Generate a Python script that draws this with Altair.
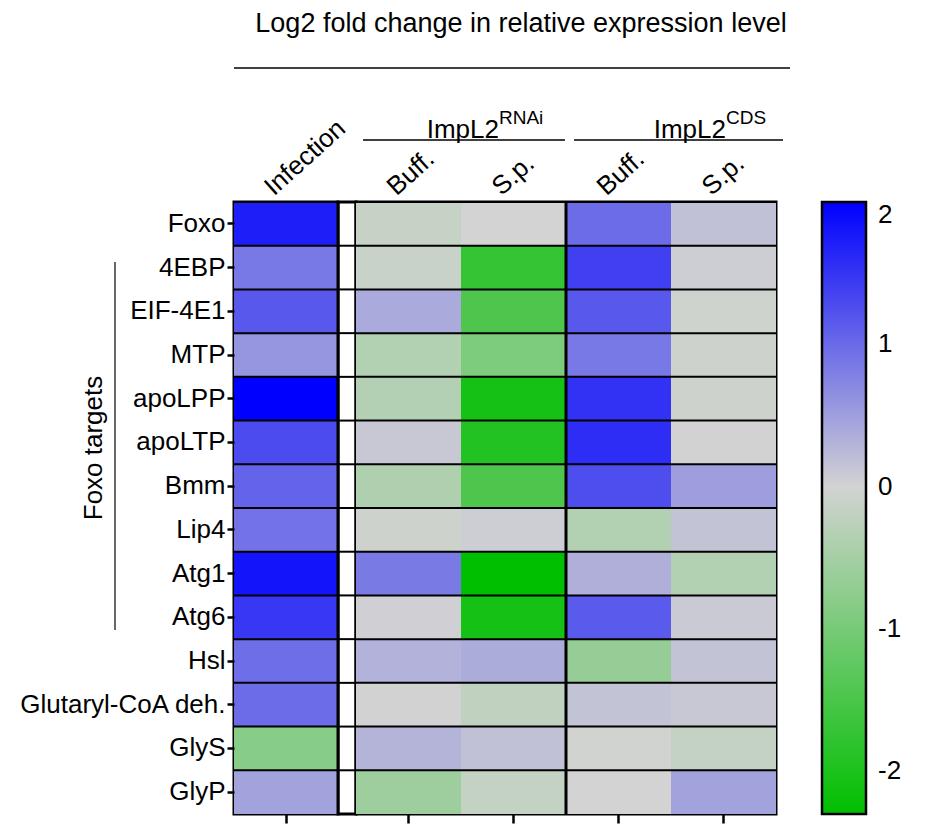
import altair as alt
import pandas as pd

genes = ["Foxo", "4EBP", "EIF-4E1", "MTP", "apoLPP", "apoLTP", "Bmm", "Lip4",
         "Atg1", "Atg6", "Hsl", "Glutaryl-CoA deh.", "GlyS", "GlyP"]
infection = [1.72, 0.86, 1.17, 0.58, 2.0, 1.29, 1.05, 0.91, 1.81, 1.48, 0.96, 0.98, -0.83, 0.46]
rnai_buff = [-0.14, -0.12, 0.39, -0.36, -0.34, 0.10, -0.39, -0.07, 0.84, 0.03, 0.31, 0.01, 0.29, -0.58]
rnai_sp = [0.0, -1.73, -1.45, -0.94, -2.08, -1.92, -1.45, 0.06, -2.3, -2.06, 0.37, -0.21, 0.18, -0.17]
cds_buff = [0.98, 1.39, 1.17, 0.86, 1.53, 1.57, 1.26, -0.36, 0.34, 1.15, -0.66, 0.15, -0.03, -0.01]
cds_sp = [0.18, 0.06, -0.05, -0.07, -0.07, 0.01, 0.50, 0.15, -0.36, 0.09, 0.15, 0.10, -0.17, 0.46]

main_cols = ["Buff.|RNAi", "S.p.|RNAi", "Buff.|CDS", "S.p.|CDS"]
legend_ticks = [-2, -1, 0, 1, 2]

FONT = "Liberation Sans"

inf_df = pd.DataFrame({"gene": genes, "col": "Infection", "value": infection})
main_df = pd.concat([
    pd.DataFrame({"gene": genes, "col": c, "value": v})
    for c, v in zip(main_cols, [rnai_buff, rnai_sp, cds_buff, cds_sp])
])
gene_df = pd.DataFrame({"gene": genes})
sep_df = pd.DataFrame({"col": ["Buff.|CDS"]})
one = pd.DataFrame({"a": [0]})

H = 612
color_scale = alt.Scale(domain=[-2.3, 0, 2], range=["#00bf00", "#d3d3d3", "#0000ff"], interpolate="rgb")
color_enc = alt.Color("value:Q", scale=color_scale, title=None,
                      legend=alt.Legend(orient="none", legendX=588, legendY=0, direction="vertical",
                                        gradientLength=H, gradientThickness=44,
                                        gradientStrokeColor="black", gradientStrokeWidth=2.5,
                                        labelFontSize=26, labelFont=FONT, labelColor="black",
                                        labelOffset=12, values=legend_ticks, labelOverlap=False,
                                        labelBaseline="middle",
                                        labelExpr="datum.value < 0 ? '-' + abs(datum.value) : '' + datum.value",
                                        padding=0))

top_axis = alt.Axis(orient="top", labelAngle=318, labelAlign="left", labelBaseline="alphabetic",
                    labelOffset=-12, labelPadding=6, ticks=False, domain=False,
                    labelFontSize=26, labelExpr="split(datum.value, '|')[0]")
bottom_axis = alt.Axis(orient="bottom", labels=False, ticks=True, tickSize=9, tickWidth=2.5,
                       tickColor="black", domain=False)
y_axis = alt.Axis(labelFontSize=26, labelColor="black", tickSize=7, tickWidth=2.5,
                  tickColor="black", labelPadding=2, domain=False, labelLimit=400)
yscale = alt.Scale(domain=genes)

# ---- Infection panel ----
inf_x = alt.Scale(domain=["Infection"])
inf_rect = alt.Chart(inf_df).mark_rect().encode(
    x=alt.X("col:N", scale=inf_x, axis=top_axis, title=None),
    y=alt.Y("gene:N", scale=yscale, title=None, axis=y_axis),
    color=color_enc,
)
inf_ticks = alt.Chart(inf_df).mark_tick(opacity=0).encode(
    x=alt.X("col:N", scale=inf_x, axis=bottom_axis, title=None),
)
inf_hlines = alt.Chart(gene_df).mark_rule(color="black", strokeWidth=2).encode(
    y=alt.Y("gene:N", scale=yscale, bandPosition=0, axis=y_axis, title=None),
)
foxo_text = alt.Chart(one).mark_text(text="Foxo targets", angle=270, fontSize=26, font=FONT,
                                     align="center", baseline="middle", color="black").encode(
    x=alt.value(-140), y=alt.value(246))
foxo_line = alt.Chart(one).mark_rule(color="black", strokeWidth=1.2).encode(
    x=alt.value(-119), y=alt.value(60), y2=alt.value(428))
inf_panel = alt.layer(inf_rect, inf_ticks, inf_hlines, foxo_text, foxo_line).resolve_axis(
    x="independent").properties(width=104, height=H)

# ---- gap panel ----
gap_panel = alt.Chart(gene_df).mark_rule(color="black", strokeWidth=2).encode(
    y=alt.Y("gene:N", scale=yscale, bandPosition=0, axis=None),
).properties(width=18, height=H)

# ---- main panel ----
mx = alt.Scale(domain=main_cols)
main_rect = alt.Chart(main_df).mark_rect().encode(
    x=alt.X("col:N", scale=mx, axis=top_axis, title=None),
    y=alt.Y("gene:N", scale=yscale, axis=None),
    color=color_enc,
)
main_ticks = alt.Chart(main_df).mark_tick(opacity=0).encode(
    x=alt.X("col:N", scale=mx, axis=bottom_axis, title=None),
)
main_hlines = alt.Chart(gene_df).mark_rule(color="black", strokeWidth=2).encode(
    y=alt.Y("gene:N", scale=yscale, bandPosition=0, axis=None),
)
group_sep = alt.Chart(sep_df).mark_rule(color="black", strokeWidth=3).encode(
    x=alt.X("col:N", scale=mx, bandPosition=0, axis=None),
)

def txt(s, x, y, size, align="left"):
    return alt.Chart(one).mark_text(text=s, fontSize=size, font=FONT, align=align,
                                    baseline="alphabetic", color="black").encode(
        x=alt.value(x), y=alt.value(y))

def line(x1, x2, y, w=1.5):
    return alt.Chart(one).mark_rule(color="black", strokeWidth=w).encode(
        x=alt.value(x1), x2=alt.value(x2), y=alt.value(y))

annotations = [
    txt("Log2 fold change in relative expression level", 165, -170, 27, "center"),
    line(-122, 434, -134),
    txt("ImpL2", 143, -64, 26, "right"),
    txt("RNAi", 143, -78, 19, "left"),
    line(7, 209, -62),
    txt("ImpL2", 370, -64, 26, "right"),
    txt("CDS", 370, -78, 19, "left"),
    line(218, 427, -62),
]

main_panel = alt.layer(main_rect, main_ticks, main_hlines, group_sep, *annotations).resolve_axis(
    x="independent").properties(width=420, height=H)

chart = alt.hconcat(inf_panel, gap_panel, main_panel, spacing=0, bounds="flush").resolve_scale(
    color="shared"
).configure_view(stroke="black", strokeWidth=3).configure_axis(
    labelFont=FONT, labelColor="black"
).properties(padding={"left": 8, "top": 0, "right": 5, "bottom": 5})

chart.save("out.html", embed_options={"renderer": "svg", "actions": False})
